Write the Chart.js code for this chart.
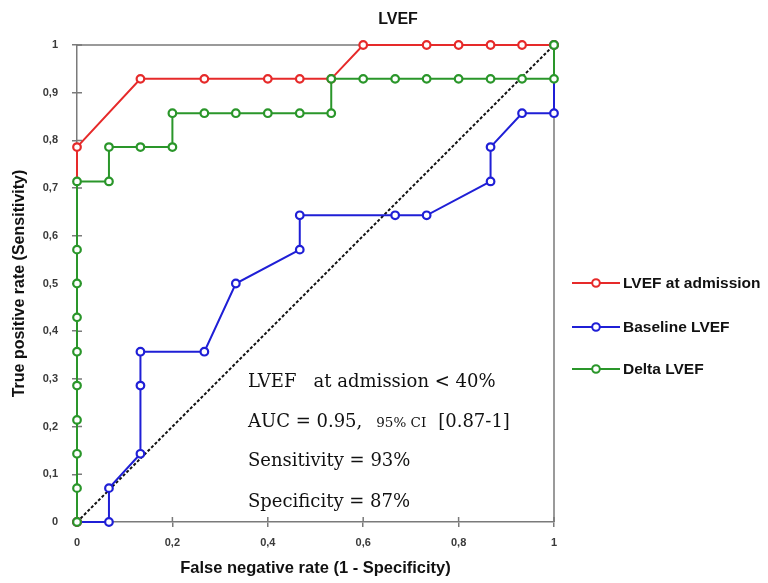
<!DOCTYPE html>
<html>
<head>
<meta charset="utf-8">
<script src="https://cdn.jsdelivr.net/npm/chart.js@4/dist/chart.umd.min.js"></script>
<style>
  html, body { margin: 0; padding: 0; background: #fff; }
  #wrap { width: 768px; height: 583px; position: relative; }
</style>
</head>
<body>
<div id="wrap"><canvas id="c" width="768" height="583"></canvas></div>
<script>
// ---- data ----
const seriesNames = ['LVEF at admission', 'Baseline LVEF', 'Delta LVEF'];

const fprAdmission = [0, 0, 0.133, 0.267, 0.4, 0.467, 0.533, 0.6, 0.733, 0.8, 0.867, 0.933, 1];
const tprAdmission = [0, 0.786, 0.929, 0.929, 0.929, 0.929, 0.929, 1, 1, 1, 1, 1, 1];

const fprBaseline = [0, 0.067, 0.067, 0.133, 0.133, 0.133, 0.267, 0.333, 0.467, 0.467, 0.667, 0.733, 0.867, 0.867, 0.933, 1, 1];
const tprBaseline = [0, 0, 0.071, 0.143, 0.286, 0.357, 0.357, 0.5, 0.571, 0.643, 0.643, 0.643, 0.714, 0.786, 0.857, 0.857, 1];

const fprDelta = [0, 0, 0, 0, 0, 0, 0, 0, 0, 0, 0.067, 0.067, 0.133, 0.2, 0.2, 0.267, 0.333, 0.4, 0.467, 0.533, 0.533, 0.6, 0.667, 0.733, 0.8, 0.867, 0.933, 1, 1];
const tprDelta = [0, 0.071, 0.143, 0.214, 0.286, 0.357, 0.429, 0.5, 0.571, 0.714, 0.714, 0.786, 0.786, 0.786, 0.857, 0.857, 0.857, 0.857, 0.857, 0.857, 0.929, 0.929, 0.929, 0.929, 0.929, 0.929, 0.929, 0.929, 1];

const diagX = [0, 1];
const diagY = [0, 1];

const xTicks = [0, 0.2, 0.4, 0.6, 0.8, 1];
const yTicks = [0, 0.1, 0.2, 0.3, 0.4, 0.5, 0.6, 0.7, 0.8, 0.9, 1];

const annotationLines = [
  'LVEF   at admission < 40%',
  'AUC = 0.95,',
  'Sensitivity = 93%',
  'Specificity = 87%'
];

const colors = ['#e62a2a', '#1f1fd6', '#2a962a'];

function pts(xs, ys) { return xs.map((x, i) => ({ x: x, y: ys[i] })); }
function fmt(v) {
  const r = Math.round(v * 10) / 10;
  if (r === 0) return '0';
  if (r === 1) return '1';
  return r.toFixed(1).replace('.', ',');
}

function seriesDS(label, xs, ys, color, order) {
  return {
    label: label,
    data: pts(xs, ys),
    showLine: true,
    borderColor: color,
    borderWidth: 2,
    pointRadius: 3.8,
    pointBorderWidth: 2.2,
    pointBorderColor: color,
    pointBackgroundColor: '#ffffff',
    pointHoverRadius: 3.8,
    order: order,
    clip: false,
    tension: 0
  };
}

const axisGray = '#7a7a7a';

const decorPlugin = {
  id: 'decor',
  beforeDatasetsDraw(chart) {
    const ctx = chart.ctx, a = chart.chartArea;
    const xs = chart.scales.x, ys = chart.scales.y;
    ctx.save();
    ctx.strokeStyle = axisGray;
    ctx.lineWidth = 1.5;
    ctx.beginPath();
    ctx.moveTo(a.left, a.top); ctx.lineTo(a.right, a.top);
    ctx.moveTo(a.right, a.top); ctx.lineTo(a.right, a.bottom);
    ctx.stroke();
    ctx.beginPath();
    yTicks.forEach(v => { const p = ys.getPixelForValue(v); ctx.moveTo(a.left, p); ctx.lineTo(a.left + 5, p); });
    xTicks.forEach(v => { const p = xs.getPixelForValue(v); ctx.moveTo(p, a.bottom); ctx.lineTo(p, a.bottom - 5); });
    ctx.stroke();
    ctx.restore();
  },
  afterDraw(chart) {
    const ctx = chart.ctx;
    ctx.save();
    ctx.fillStyle = '#111';
    ctx.font = "bold 16px 'Liberation Sans', Arial, sans-serif";
    ctx.textAlign = 'center';
    ctx.textBaseline = 'middle';
    ctx.fillText('LVEF', 398, 20);

    ctx.textAlign = 'left';
    ctx.font = "bold 15.5px 'Liberation Sans', Arial, sans-serif";
    const ly = [283, 327, 369];
    seriesNames.forEach((n, i) => {
      const y = ly[i];
      ctx.strokeStyle = colors[i];
      ctx.lineWidth = 2;
      ctx.beginPath(); ctx.moveTo(572, y); ctx.lineTo(620, y); ctx.stroke();
      ctx.beginPath(); ctx.arc(596, y, 3.8, 0, Math.PI * 2);
      ctx.fillStyle = '#fff'; ctx.fill(); ctx.stroke();
      ctx.fillStyle = '#111';
      ctx.fillText(n, 623, y + 1);
    });

    ctx.textBaseline = 'alphabetic';
    ctx.fillStyle = '#111';
    const big = "18px 'DejaVu Serif', 'Liberation Serif', serif";
    const small = "13.5px 'DejaVu Serif', 'Liberation Serif', serif";
    const x0 = 248;
    const bl = [387, 427, 466, 507];
    ctx.font = big;
    ctx.fillText(annotationLines[0], x0, bl[0]);
    ctx.fillText(annotationLines[1], x0, bl[1]);
    let w = ctx.measureText(annotationLines[1]).width;
    ctx.font = small;
    ctx.fillText('95% CI', x0 + w + 14, bl[1]);
    let w2 = ctx.measureText('95% CI').width;
    ctx.font = big;
    ctx.fillText('[0.87-1]', x0 + w + 14 + w2 + 12, bl[1]);
    ctx.fillText(annotationLines[2], x0, bl[2]);
    ctx.fillText(annotationLines[3], x0, bl[3]);
    ctx.restore();
  }
};

new Chart(document.getElementById('c'), {
  type: 'scatter',
  data: {
    datasets: [
      seriesDS(seriesNames[0], fprAdmission, tprAdmission, colors[0], 1),
      seriesDS(seriesNames[1], fprBaseline, tprBaseline, colors[1], 2),
      seriesDS(seriesNames[2], fprDelta, tprDelta, colors[2], 0),
      {
        label: 'diag',
        data: pts(diagX, diagY),
        showLine: true,
        borderColor: '#111',
        borderWidth: 2,
        borderDash: [3, 2],
        pointRadius: 0,
        clip: false,
        order: 3
      }
    ]
  },
  options: {
    responsive: false,
    animation: false,
    events: [],
    layout: { padding: { left: 4, right: 214, top: 45, bottom: 4 } },
    plugins: { legend: { display: false }, tooltip: { enabled: false }, title: { display: false } },
    scales: {
      x: {
        type: 'linear', min: 0, max: 1,
        afterBuildTicks(s) { s.ticks = xTicks.map(v => ({ value: v })); },
        afterFit(s) { s.height = 57; },
        ticks: { callback: v => fmt(v), color: '#3a3a3a', font: { family: "'Liberation Sans', Arial, sans-serif", size: 11, weight: 'bold' }, padding: 9, maxRotation: 0 },
        grid: { display: true, drawOnChartArea: false, drawTicks: true, tickLength: 5, color: axisGray, lineWidth: 1.5 },
        border: { display: true, color: axisGray, width: 1.5 },
        title: { display: true, text: 'False negative rate (1 - Specificity)', color: '#111', font: { family: "'Liberation Sans', Arial, sans-serif", size: 16.5, weight: 'bold' }, padding: { top: 0, bottom: 1 } }
      },
      y: {
        type: 'linear', min: 0, max: 1,
        afterBuildTicks(s) { s.ticks = yTicks.map(v => ({ value: v })); },
        afterFit(s) { s.width = 73; },
        ticks: { callback: v => fmt(v), color: '#3a3a3a', font: { family: "'Liberation Sans', Arial, sans-serif", size: 11, weight: 'bold' }, padding: 14 },
        grid: { display: true, drawOnChartArea: false, drawTicks: true, tickLength: 5, color: axisGray, lineWidth: 1.5 },
        border: { display: true, color: axisGray, width: 1.5 },
        title: { display: true, text: 'True positive rate (Sensitivity)', color: '#111', font: { family: "'Liberation Sans', Arial, sans-serif", size: 16, weight: 'bold' }, padding: { top: 6, bottom: 0 } }
      }
    }
  },
  plugins: [decorPlugin]
});
</script>
</body>
</html>
